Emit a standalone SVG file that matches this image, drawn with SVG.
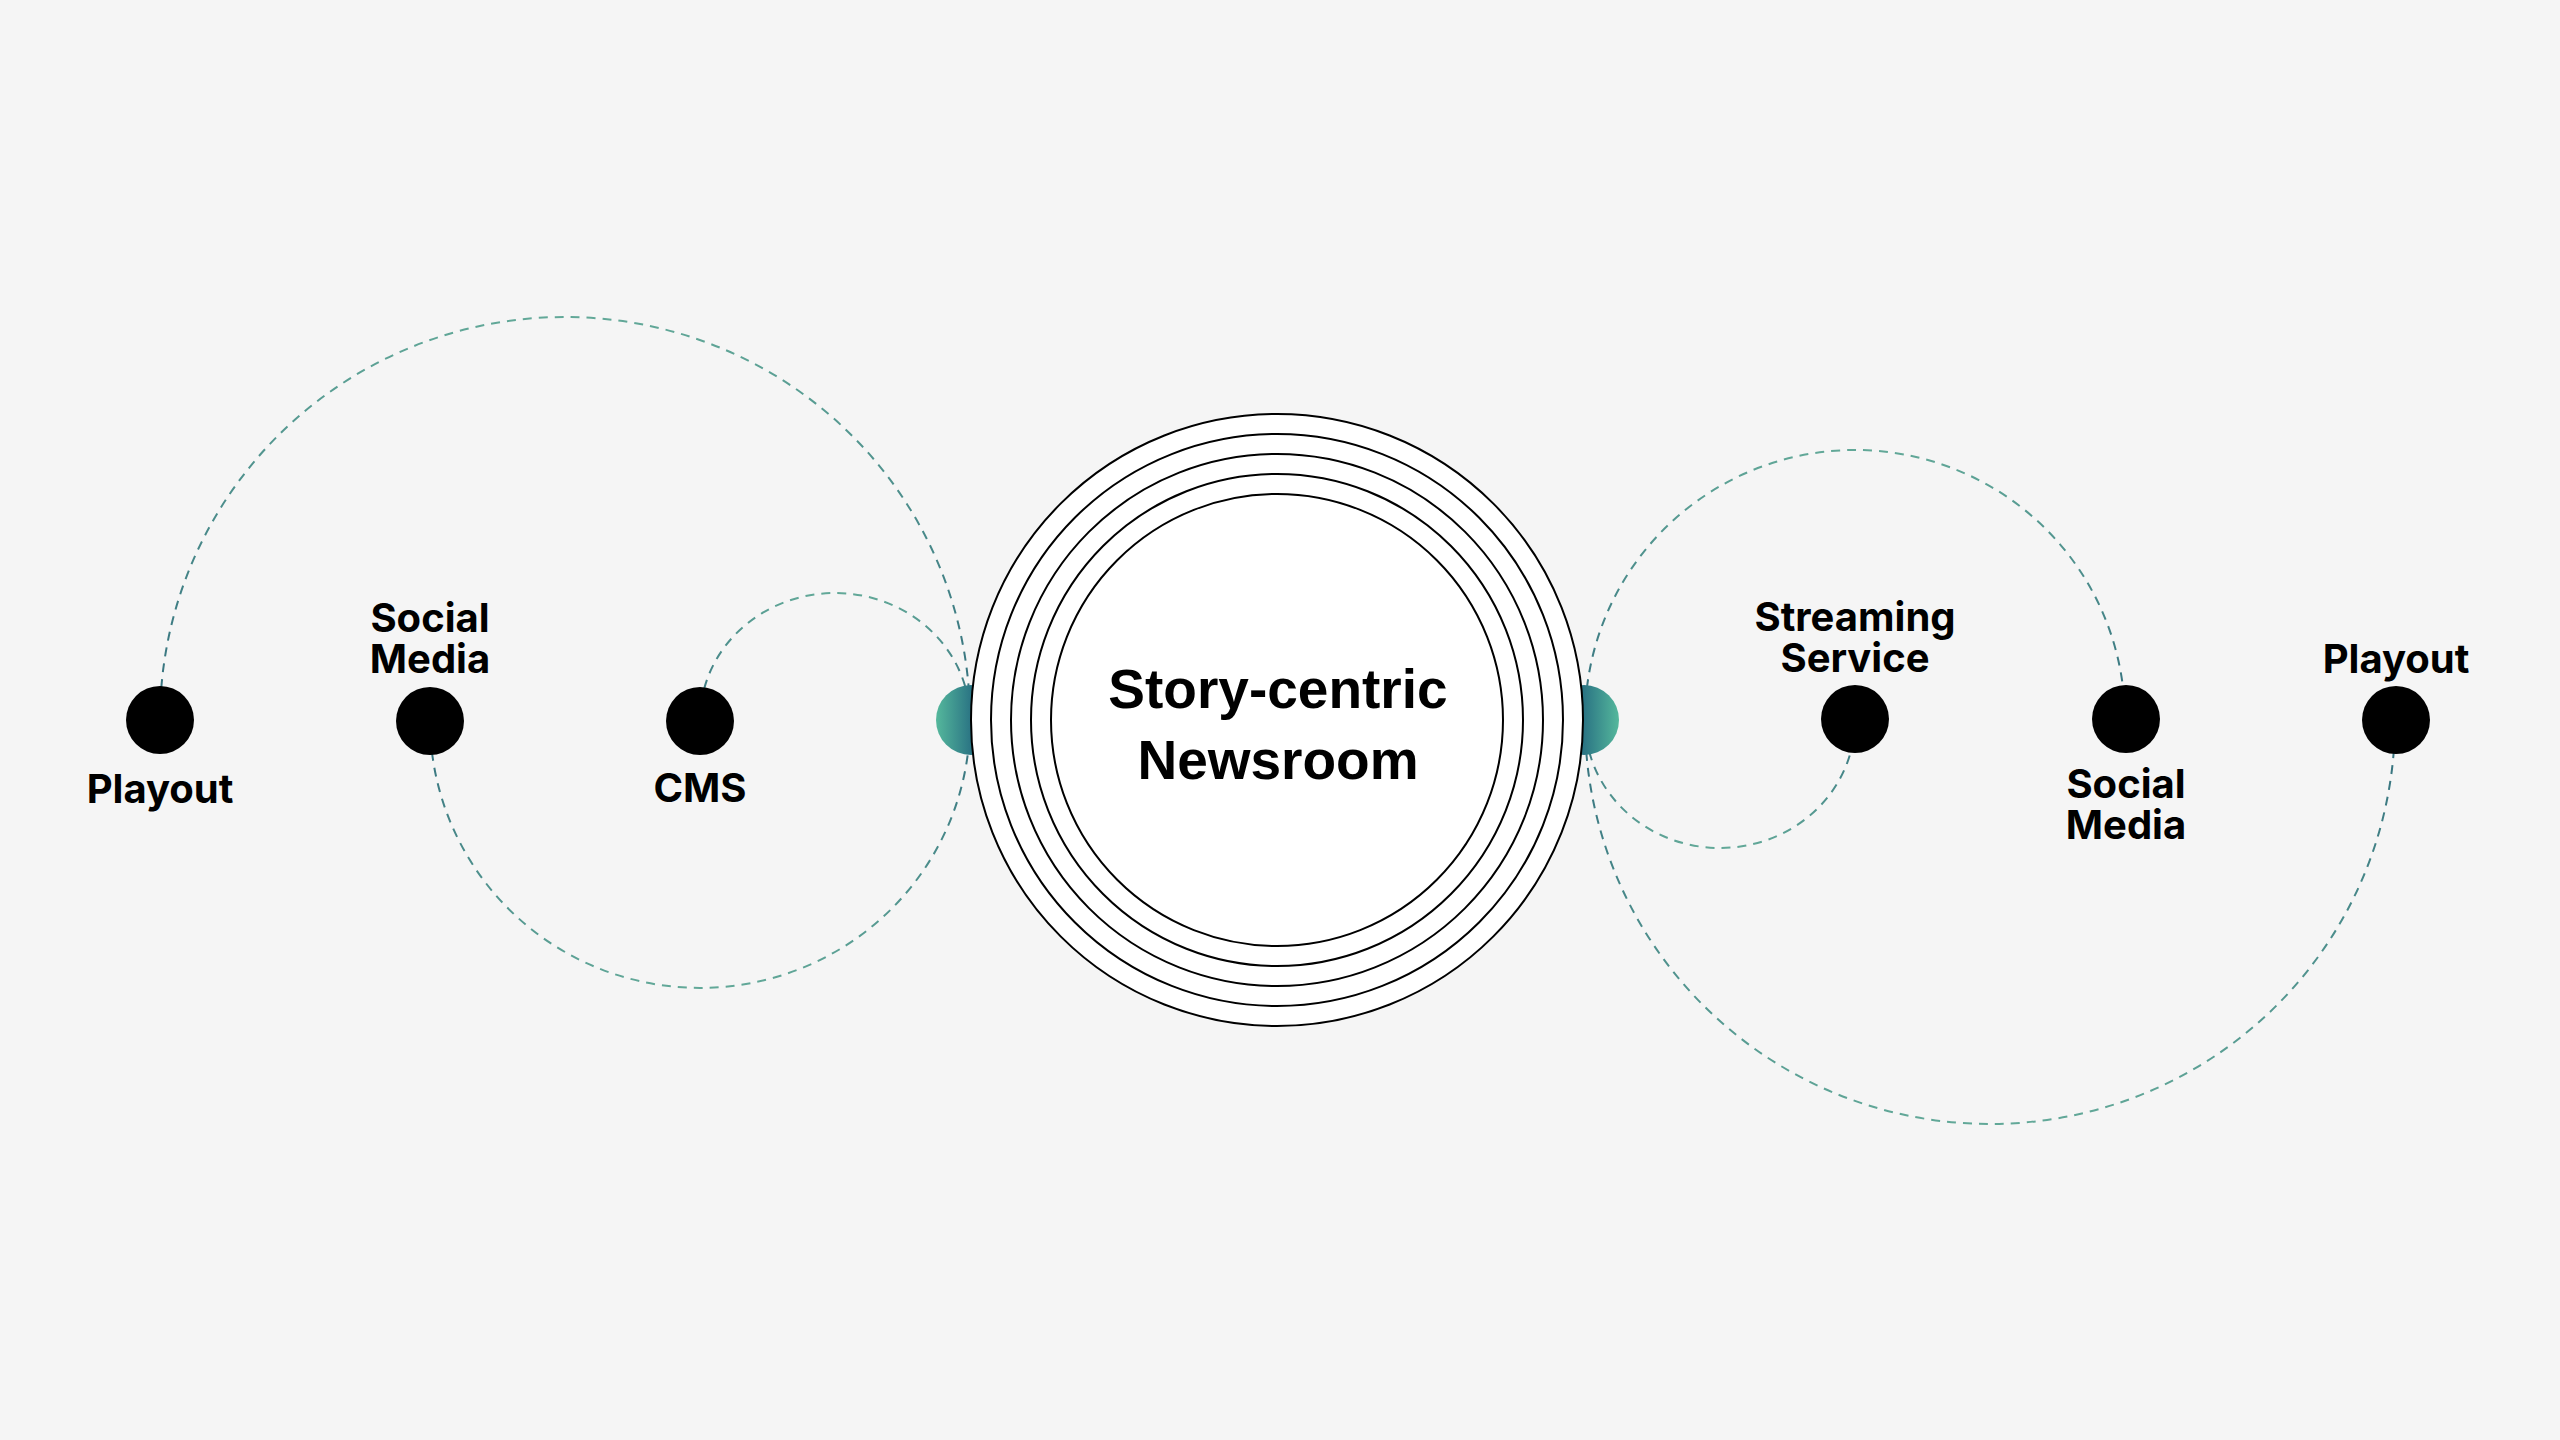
<svg xmlns="http://www.w3.org/2000/svg" width="2560" height="1440" viewBox="0 0 2560 1440">
  <style>
    .arc { fill: none; stroke-width: 2; stroke-dasharray: 9 7; }
    .up { stroke: url(#gUp); }
    .down { stroke: url(#gDown); }
    .node { fill: #000; }
    .ring { fill: #fff; stroke: #000; stroke-width: 2; }
    .lbl { font-family: Inter, "Noto Sans", sans-serif; font-weight: 700; font-size: 40px; fill: #000; text-anchor: middle; }
    .title { font-family: "Liberation Sans", Arial, sans-serif; font-weight: 700; font-size: 55px; fill: #000; text-anchor: middle; }
  </style>
  <defs>
    <linearGradient id="gUp" x1="0" y1="0" x2="0" y2="1">
      <stop offset="0" stop-color="#62a898"/>
      <stop offset="1" stop-color="#336f7d"/>
    </linearGradient>
    <linearGradient id="gDown" x1="0" y1="1" x2="0" y2="0">
      <stop offset="0" stop-color="#62a898"/>
      <stop offset="1" stop-color="#336f7d"/>
    </linearGradient>
    <linearGradient id="tealL" x1="0" y1="0" x2="1" y2="0">
      <stop offset="0" stop-color="#55b89c"/>
      <stop offset="0.5" stop-color="#2b7584"/>
    </linearGradient>
    <linearGradient id="tealR" x1="0" y1="0" x2="1" y2="0">
      <stop offset="0.5" stop-color="#2b7584"/>
      <stop offset="1" stop-color="#55b89c"/>
    </linearGradient>
  </defs>
  <rect width="2560" height="1440" fill="#f5f5f5"/>

  <g id="connectors">
    <path class="arc up" d="M 160 720 A 405 403 0 0 1 970 720"/>
    <path class="arc down" d="M 430 720 A 270 268 0 0 0 970 720"/>
    <path class="arc up" d="M 700 720 A 135 127 0 0 1 970 720"/>
    <path class="arc down" d="M 1585 720 A 135 128 0 0 0 1855 720"/>
    <path class="arc up" d="M 1585 720 A 270 270 0 0 1 2125 720"/>
    <path class="arc down" d="M 1585 720 A 405 404 0 0 0 2395 720"/>
  </g>

  <g id="port-left"><circle cx="971" cy="720" r="35" fill="url(#tealL)"/></g>
  <g id="port-right"><circle cx="1584" cy="720" r="35" fill="url(#tealR)"/></g>

  <g id="newsroom">
    <circle class="ring" cx="1277" cy="720" r="306"/>
    <circle class="ring" cx="1277" cy="720" r="286"/>
    <circle class="ring" cx="1277" cy="720" r="266"/>
    <circle class="ring" cx="1277" cy="720" r="246"/>
    <circle class="ring" cx="1277" cy="720" r="226"/>
    <text class="title" x="1278" y="708">Story-centric</text>
    <text class="title" x="1278" y="779">Newsroom</text>
  </g>

  <g id="playout-left">
    <circle class="node" cx="160" cy="720" r="34"/>
    <text class="lbl" x="160" y="803">Playout</text>
  </g>
  <g id="social-left">
    <circle class="node" cx="430" cy="721" r="34"/>
    <text class="lbl" x="430" y="632">Social</text>
    <text class="lbl" x="430" y="673">Media</text>
  </g>
  <g id="cms">
    <circle class="node" cx="700" cy="721" r="34"/>
    <text class="lbl" x="700" y="802">CMS</text>
  </g>
  <g id="streaming">
    <circle class="node" cx="1855" cy="719" r="34"/>
    <text class="lbl" x="1855" y="631">Streaming</text>
    <text class="lbl" x="1855" y="672">Service</text>
  </g>
  <g id="social-right">
    <circle class="node" cx="2126" cy="719" r="34"/>
    <text class="lbl" x="2126" y="798">Social</text>
    <text class="lbl" x="2126" y="839">Media</text>
  </g>
  <g id="playout-right">
    <circle class="node" cx="2396" cy="720" r="34"/>
    <text class="lbl" x="2396" y="673">Playout</text>
  </g>
</svg>
